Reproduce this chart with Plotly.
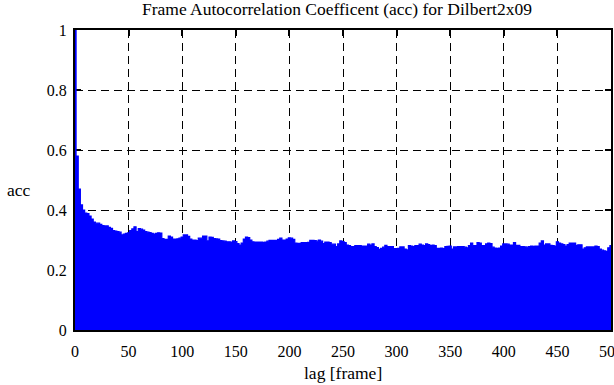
import plotly.graph_objects as go

# Lag bins (frame) : first bin is lag 0 (width 1), then 2-frame bins starting at odd lags
lag_start = [0] + list(range(1, 500, 2))
acc_values = [1.0,
    0.58, 0.47, 0.417, 0.40, 0.39, 0.388, 0.38, 0.37, 0.36, 0.356,
    0.356, 0.352, 0.348, 0.347, 0.347, 0.342, 0.339, 0.331, 0.33, 0.328,
    0.326, 0.317, 0.32, 0.322, 0.324, 0.331, 0.337, 0.344, 0.328, 0.338,
    0.336, 0.333, 0.328, 0.326, 0.325, 0.322, 0.32, 0.322, 0.324, 0.323,
    0.305, 0.302, 0.302, 0.313, 0.31, 0.303, 0.303, 0.304, 0.306, 0.31,
    0.317, 0.317, 0.312, 0.303, 0.3, 0.3, 0.298, 0.306, 0.306, 0.313,
    0.313, 0.297, 0.31, 0.309, 0.305, 0.304, 0.303, 0.298, 0.297, 0.296,
    0.294, 0.294, 0.293, 0.297, 0.295, 0.288, 0.283, 0.29, 0.303, 0.31,
    0.308, 0.3, 0.294, 0.293, 0.293, 0.293, 0.293, 0.292, 0.293, 0.296,
    0.299, 0.299, 0.299, 0.299, 0.302, 0.306, 0.3, 0.3, 0.303, 0.307,
    0.306, 0.302, 0.29, 0.289, 0.289, 0.291, 0.291, 0.291, 0.292, 0.299,
    0.299, 0.298, 0.296, 0.3, 0.296, 0.288, 0.293, 0.293, 0.291, 0.286,
    0.286, 0.278, 0.287, 0.297, 0.295, 0.291, 0.283, 0.281, 0.278, 0.278,
    0.281, 0.281, 0.281, 0.28, 0.28, 0.28, 0.286, 0.283, 0.287, 0.278,
    0.275, 0.269, 0.272, 0.276, 0.282, 0.278, 0.278, 0.278, 0.271, 0.271,
    0.272, 0.277, 0.277, 0.27, 0.267, 0.281, 0.28, 0.278, 0.281, 0.281,
    0.286, 0.283, 0.281, 0.287, 0.285, 0.281, 0.283, 0.281, 0.272, 0.272,
    0.273, 0.271, 0.278, 0.279, 0.28, 0.27, 0.277, 0.277, 0.278, 0.278,
    0.278, 0.276, 0.274, 0.281, 0.29, 0.281, 0.281, 0.291, 0.29, 0.281,
    0.281, 0.287, 0.29, 0.288, 0.276, 0.273, 0.272, 0.273, 0.28, 0.287,
    0.287, 0.286, 0.283, 0.283, 0.291, 0.282, 0.282, 0.278, 0.278, 0.277,
    0.276, 0.278, 0.28, 0.279, 0.28, 0.28, 0.29, 0.297, 0.283, 0.287,
    0.287, 0.282, 0.281, 0.28, 0.294, 0.29, 0.287, 0.285, 0.28, 0.285,
    0.29, 0.29, 0.29, 0.282, 0.284, 0.284, 0.27, 0.274, 0.277, 0.277,
    0.277, 0.277, 0.28, 0.278, 0.27, 0.266, 0.264, 0.262, 0.274, 0.281,
]
lag_end = 500

x_tick_vals = [0, 50, 100, 150, 200, 250, 300, 350, 400, 450, 500]
x_tick_text = ["0", "50", "100", "150", "200", "250", "300", "350", "400", "450", "500"]
y_tick_vals = [0, 0.2, 0.4, 0.6, 0.8, 1]
y_tick_text = ["0", "0.2", "0.4", "0.6", "0.8", "1"]

title_text = "Frame Autocorrelation Coefficent (acc) for Dilbert2x09"
x_title = "lag [frame]"
y_title = "acc"

xs = lag_start + [lag_end]
ys = acc_values + [acc_values[-1]]

FONT = '"Liberation Serif", "DejaVu Serif", "Times New Roman", serif'

fig = go.Figure()
fig.add_trace(go.Scatter(
    x=xs, y=ys, mode="lines",
    line=dict(shape="hv", width=1.2, color="#0000ff"),
    fill="tozeroy", fillcolor="#0000ff",
    hoverinfo="skip", showlegend=False, cliponaxis=True,
))

axis_common = dict(
    showline=True, linecolor="black", linewidth=2, mirror="allticks",
    ticks="inside", ticklen=6, tickwidth=2, tickcolor="black",
    showgrid=True, gridcolor="black", gridwidth=1, griddash="8px,5px",
    zeroline=False, layer="below traces", automargin=False,
    tickfont=dict(family=FONT, size=16, color="black"),
)

# last x label ("500") is drawn as an annotation so it can run off the page edge like the original
fig.update_xaxes(range=[0, 500], tickvals=x_tick_vals,
                 ticktext=x_tick_text[:-1] + [""], ticklabelstandoff=6, **axis_common)
fig.update_yaxes(range=[0, 1], tickvals=y_tick_vals, ticktext=y_tick_text,
                 ticklabelstandoff=3, **axis_common)

fig.update_layout(
    width=614, height=385,
    margin=dict(l=75, r=3, t=30, b=55),
    paper_bgcolor="white", plot_bgcolor="white",
    font=dict(family=FONT, size=16, color="black"),
    annotations=[
        dict(text=title_text, xref="paper", yref="paper", x=0.489, y=1, yshift=21,
             xanchor="center", yanchor="middle", showarrow=False,
             font=dict(family=FONT, size=17.5, color="black")),
        dict(text=x_title, xref="paper", yref="paper", x=0.5, y=0, yshift=-43,
             xanchor="center", yanchor="middle", showarrow=False,
             font=dict(family=FONT, size=17.5, color="black")),
        dict(text=y_title, xref="paper", yref="paper", x=0, xshift=-56, y=0.465,
             xanchor="center", yanchor="middle", showarrow=False,
             font=dict(family=FONT, size=17.5, color="black")),
        dict(text=x_tick_text[-1], xref="x", yref="paper", x=x_tick_vals[-1], y=0, yshift=-21,
             xanchor="center", yanchor="middle", showarrow=False,
             font=dict(family=FONT, size=16, color="black")),
    ],
)

fig.write_html("out.html", config={"displayModeBar": False, "staticPlot": True},
               post_script="document.body.style.margin='0';document.body.style.padding='0';")
